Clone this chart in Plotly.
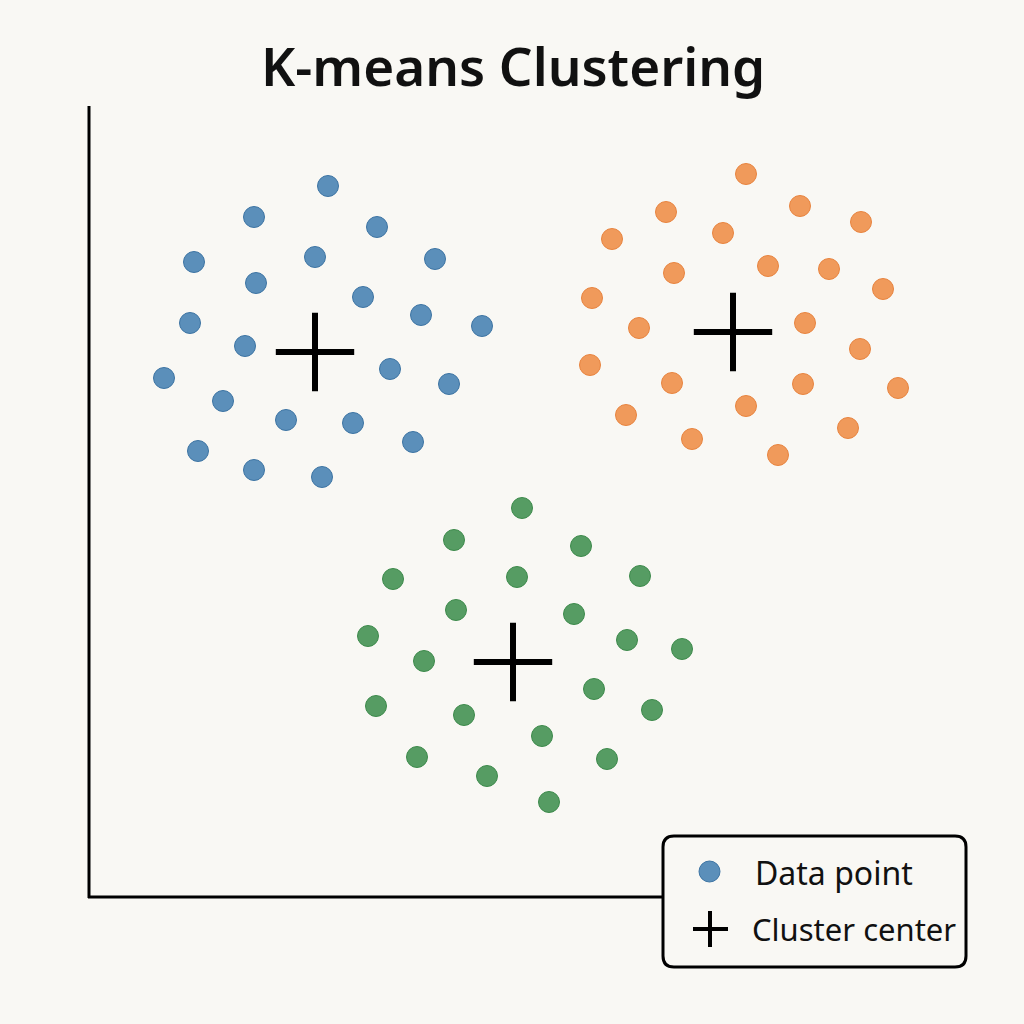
import plotly.graph_objects as go

# Cluster data (x to the right, y downward in picture units)
blue_x = [328, 254, 377, 194, 315, 435, 256, 363, 421, 190, 482, 245, 164, 390, 449, 223, 286, 353, 413, 198, 254, 322]
blue_y = [186, 217, 227, 262, 257, 259, 283, 297, 315, 323, 326, 346, 378, 369, 384, 401, 420, 423, 442, 451, 470, 477]

orange_x = [746, 666, 800, 861, 612, 723, 674, 768, 829, 883, 592, 639, 805, 860, 590, 672, 803, 898, 746, 626, 692, 848, 778]
orange_y = [174, 212, 206, 222, 239, 233, 273, 266, 269, 289, 298, 328, 323, 349, 365, 383, 384, 388, 406, 415, 439, 428, 455]

green_x = [522, 454, 581, 393, 517, 640, 456, 574, 368, 627, 682, 424, 594, 376, 464, 652, 542, 417, 607, 487, 549]
green_y = [508, 540, 546, 579, 577, 576, 610, 614, 636, 640, 649, 661, 689, 706, 715, 710, 736, 757, 759, 776, 802]

center_x = [315, 733, 513]
center_y = [352, 332, 662]

title_text = "K-means Clustering"
legend_labels = ["Data point", "Cluster center"]

BG = "#F9F8F4"
FONT = "Noto Sans"

fig = go.Figure()

clusters = [
    (blue_x, blue_y, "#5B8FBA", "#3D74A3"),
    (orange_x, orange_y, "#F09A5B", "#E8843F"),
    (green_x, green_y, "#569C63", "#3D8A4B"),
]
for xs, ys, fill, edge in clusters:
    fig.add_trace(go.Scatter(
        x=xs, y=ys, mode="markers", showlegend=False, hoverinfo="skip",
        marker=dict(size=21, color=fill, line=dict(color=edge, width=1)),
    ))

fig.add_trace(go.Scatter(
    x=center_x, y=center_y, mode="markers", showlegend=False, hoverinfo="skip",
    marker=dict(symbol="cross-thin", size=56, color="black",
                line=dict(color="black", width=6)),
))

shapes = []
# axis lines
shapes.append(dict(type="line", xref="x", yref="y", x0=89, y0=106, x1=89, y1=898,
                   line=dict(color="black", width=3)))
shapes.append(dict(type="line", xref="x", yref="y", x0=88, y0=897, x1=663, y1=897,
                   line=dict(color="black", width=3)))
# legend box (rounded)
L, R, T, B, r = 663, 966, 836, 967, 11
path = (f"M {L+r},{T} L {R-r},{T} Q {R},{T} {R},{T+r} L {R},{B-r} Q {R},{B} {R-r},{B} "
        f"L {L+r},{B} Q {L},{B} {L},{B-r} L {L},{T+r} Q {L},{T} {L+r},{T} Z")
shapes.append(dict(type="path", xref="x", yref="y", path=path,
                   line=dict(color="black", width=3), fillcolor=BG, layer="above"))
# legend glyphs
shapes.append(dict(type="circle", xref="x", yref="y", x0=699, y0=861, x1=720, y1=882,
                   fillcolor="#5B8FBA", line=dict(color="#3D74A3", width=1), layer="above"))
shapes.append(dict(type="line", xref="x", yref="y", x0=693, y0=929, x1=728, y1=929,
                   line=dict(color="black", width=4), layer="above"))
shapes.append(dict(type="line", xref="x", yref="y", x0=710, y0=911, x1=710, y1=947,
                   line=dict(color="black", width=4), layer="above"))

annotations = [
    dict(text=title_text, x=513, y=65, xref="x", yref="y", showarrow=False,
         xanchor="center", yanchor="middle",
         font=dict(family=FONT, size=53, color="#111111", weight=600)),
    dict(text=legend_labels[0], x=753, y=872, xref="x", yref="y", showarrow=False,
         xanchor="left", yanchor="middle",
         font=dict(family=FONT, size=32, color="#111111")),
    dict(text=legend_labels[1], x=750, y=929, xref="x", yref="y", showarrow=False,
         xanchor="left", yanchor="middle",
         font=dict(family=FONT, size=31, color="#111111")),
]

fig.update_layout(
    width=1024, height=1024, autosize=False,
    margin=dict(l=0, r=0, t=0, b=0),
    paper_bgcolor=BG, plot_bgcolor=BG,
    xaxis=dict(range=[0, 1024], visible=False, fixedrange=True),
    yaxis=dict(range=[1024, 0], visible=False, fixedrange=True),
    shapes=shapes, annotations=annotations,
)

fig.write_html(
    "out.html",
    config={"displayModeBar": False},
    post_script="document.body.style.margin='0';document.body.style.background='#F9F8F4';document.body.style.overflow='hidden';",
)
